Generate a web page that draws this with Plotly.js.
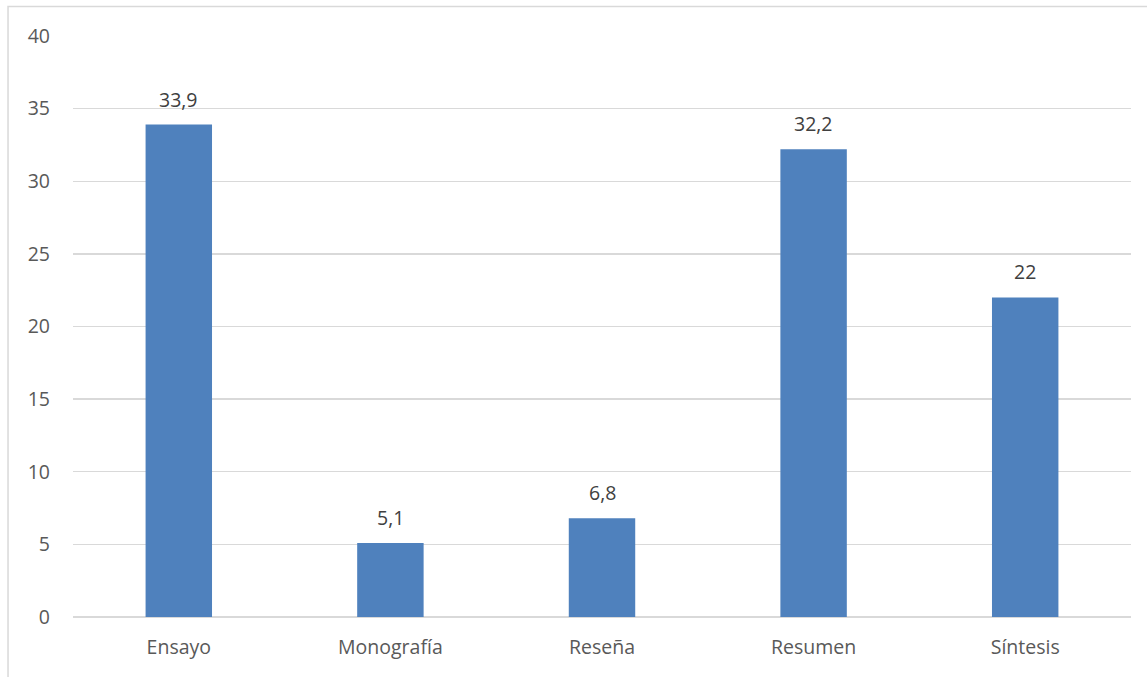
<!DOCTYPE html>
<html>
<head>
<meta charset="utf-8">
<script src="https://cdn.plot.ly/plotly-3.0.1.min.js"></script>
<style>html,body{margin:0;padding:0;background:#fff;}#chart{width:1147px;height:677px;}</style>
</head>
<body>
<div id="chart"></div>
<script>
const categories = ["Ensayo", "Monografía", "Reseña", "Resumen", "Síntesis"];
const values = [33.9, 5.1, 6.8, 32.2, 22];
const yTicks = [0, 5, 10, 15, 20, 25, 30, 35, 40];

const fontFam = "Open Sans, Noto Sans, sans-serif";
const fmt = v => String(v).replace(".", ",");

const trace = {
  type: "bar",
  x: categories,
  y: values,
  marker: {color: "#4f81bd"},
  hoverinfo: "none"
};

const labelAnns = categories.map((c, i) => ({
  x: c, y: values[i], xref: "x", yref: "y",
  text: fmt(values[i]),
  showarrow: false,
  yanchor: "bottom",
  yshift: 10,
  font: {family: fontFam, size: 19.5, color: "#404040"}
}));

const layout = {
  width: 1147, height: 677,
  margin: {l: 73, r: 16, t: 36, b: 60},
  paper_bgcolor: "#ffffff",
  plot_bgcolor: "#ffffff",
  separators: ",.",
  bargap: 0.686,
  showlegend: false,
  font: {family: fontFam, size: 19.5, color: "#595959"},
  xaxis: {
    type: "category",
    showgrid: false,
    zeroline: false,
    showline: false,
    ticks: "",
    ticklabelstandoff: 16,
    tickfont: {family: fontFam, size: 19.5, color: "#595959"}
  },
  yaxis: {
    range: [0, 40],
    tickvals: yTicks,
    ticktext: yTicks.map(String),
    showgrid: true,
    gridcolor: "#d9d9d9",
    gridwidth: 1.3,
    zeroline: true,
    zerolinecolor: "#d9d9d9",
    zerolinewidth: 1.3,
    showline: false,
    ticks: "",
    ticklabelstandoff: 22,
    tickfont: {family: fontFam, size: 19.5, color: "#595959"}
  },
  annotations: labelAnns,
  shapes: [{
    type: "rect", xref: "paper", yref: "paper",
    x0: -0.0614, x1: 1.2, y0: -0.3, y1: 1.0508,
    line: {color: "#d9d9d9", width: 1.5},
    fillcolor: "rgba(0,0,0,0)",
    layer: "below"
  }]
};

Plotly.newPlot("chart", [trace], layout, {displayModeBar: false, staticPlot: true});
</script>
</body>
</html>
